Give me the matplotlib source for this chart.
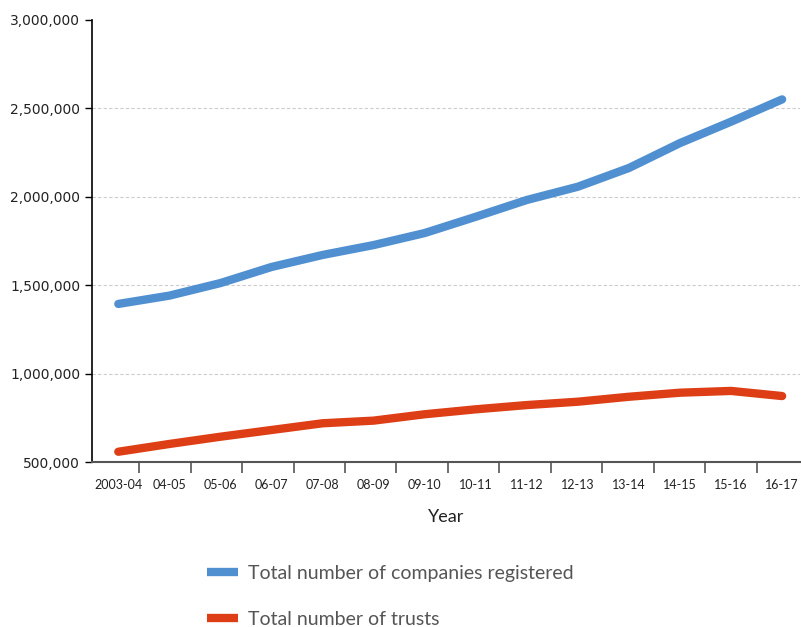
import matplotlib
matplotlib.use('Agg')
import matplotlib.pyplot as plt
import matplotlib.ticker as ticker
import numpy as np

years = ['2003-04', '04-05', '05-06', '06-07', '07-08', '08-09', '09-10',
         '10-11', '11-12', '12-13', '13-14', '14-15', '15-16', '16-17']
companies = [1394000, 1441000, 1512000, 1603000, 1671000, 1727000, 1795000,
             1887000, 1982000, 2057000, 2163000, 2304000, 2425000, 2551000]
trusts = [558000, 602000, 643000, 681000, 719000, 734000, 770000,
          798000, 822000, 841000, 869000, 892000, 902000, 873000]

BLUE = '#5090d0'
RED = '#dd3e15'


def create_graphic():
    fig = plt.figure(figsize=(8.01, 6.27), dpi=100)
    ax = fig.add_axes([92 / 801, 1 - 462 / 627, 708 / 801, 442 / 627])

    x = np.arange(len(years))
    ax.plot(x, companies, color=BLUE, lw=6, solid_capstyle='round',
            label='Total number of companies registered')
    ax.plot(x, trusts, color=RED, lw=6, solid_capstyle='round',
            label='Total number of trusts')

    ax.set_ylim(500000, 3000000)
    ax.set_xlim(-0.515, 13.35)
    ax.set_yticks(np.arange(500000, 3000001, 500000))
    ax.yaxis.set_major_formatter(ticker.FuncFormatter(lambda v, p: f'{int(v):,}'))
    for v in [1000000, 1500000, 2000000, 2500000]:
        ax.axhline(v, color='#cccccc', lw=0.8, ls=(0, (3, 2)), zorder=0)

    # labels sit under the points, ticks between them
    ax.set_xticks(x)
    ax.set_xticklabels(years, family='Lato', fontsize=9, color='#222222')
    ax.tick_params(axis='x', which='major', length=0, pad=12)
    ax.set_xticks(np.linspace(0.41, 12.5, 13), minor=True)
    ax.tick_params(axis='x', which='minor', length=7.7, width=1.2, color='#555555')
    ax.tick_params(axis='y', length=5, width=1, labelsize=10, labelcolor='#222222')

    ax.spines['top'].set_visible(False)
    ax.spines['right'].set_visible(False)
    ax.spines['left'].set_linewidth(1.2)
    ax.spines['bottom'].set_color('#555555')
    ax.spines['bottom'].set_linewidth(1.5)

    ax.set_xlabel('Year', family='Lato', fontsize=13, color='#222222', labelpad=13)

    leg = fig.legend(loc='upper left', bbox_to_anchor=(197 / 801, 1 - 555 / 627),
                     frameon=False, handlelength=1.6, handletextpad=0.5,
                     labelspacing=1.5, borderpad=0,
                     prop={'family': 'Lato', 'size': 14})
    for t in leg.get_texts():
        t.set_color('#555555')
    for h in leg.get_lines():
        h.set_linewidth(6)
        h.set_solid_capstyle('butt')

    fig.savefig('out.png', dpi=100)


if __name__ == '__main__':
    create_graphic()
